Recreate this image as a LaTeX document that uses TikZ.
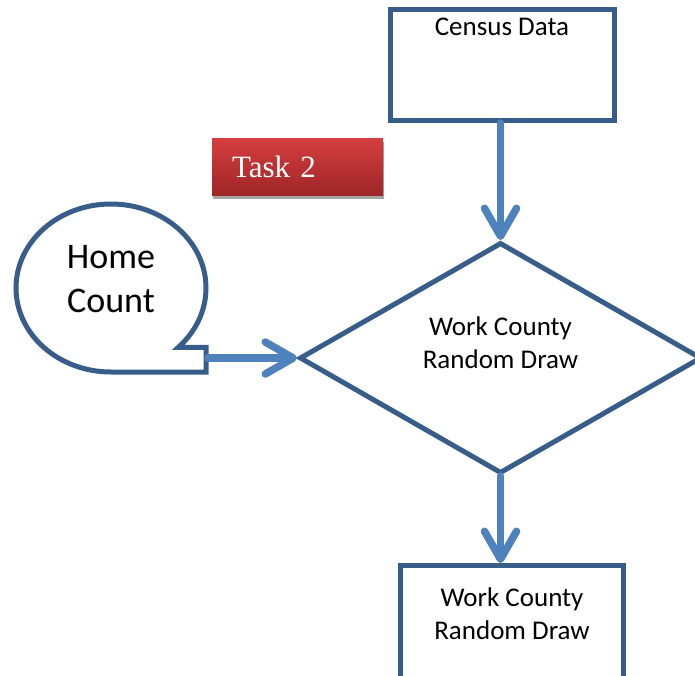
\documentclass[tikz,border=0pt]{standalone}
\usepackage{fontspec}
\setmainfont{Carlito}
\newfontfamily\taskfont{Liberation Serif}
\usetikzlibrary{positioning}
\usetikzlibrary{arrows.meta}
\usetikzlibrary{shapes.geometric}
\usetikzlibrary{shadows}

\definecolor{shapeblue}{RGB}{56,93,138}
\definecolor{arrowblue}{RGB}{79,129,189}
\definecolor{tasktop}{RGB}{214,62,62}
\definecolor{taskbottom}{RGB}{158,38,40}

\begin{document}
\begin{tikzpicture}[ x                 = 1pt
                   , y                 = -1pt
                   , font              = \fontsize{27}{33}\selectfont
                   , every node/.style = { align     = center
                                         , inner sep = 0pt
                                         }
                   % Use barb style arrows
                   , >={Straight Barb[length=28pt, width=32pt, round]}
                   ]

  %%
  %% Node types
  %%
  \tikzset{ block/.style={rectangle, draw=shapeblue, line width=5pt, fill=white}
          , decision/.style={diamond, draw=shapeblue, line width=5pt, fill=white,
                             minimum width=402pt, minimum height=231pt}
          , bubble/.style={draw=shapeblue, line width=5pt, fill=white}
          , tasktag/.style={rectangle, top color=tasktop, bottom color=taskbottom,
                            text=white, font=\taskfont\fontsize{31}{36}\selectfont,
                            minimum width=171pt, minimum height=57pt,
                            text width=131pt, inner xsep=20pt, align=left,
                            drop shadow={shadow xshift=1pt, shadow yshift=-4pt,
                                         fill=black!35, opacity=1}}
          }

  %%
  %% Arrow types
  %%
  \tikzset{ flow/.style={->, arrowblue, line width=7.5pt, line cap=round} }

  \useasboundingbox (0,0) rectangle (695,675);
  \clip (0,0) rectangle (695,675);

  %%
  %% Nodes
  %%
  \node (census) [block, minimum width=224pt, minimum height=111pt,
                  label={[anchor=north, yshift=-11pt]north:Census Data}] at (502,65) {};

  \node (task) [tasktag] at (297.5,166.5) {Task 2};

  \node (decide) [decision, label={[yshift=15pt]center:Work County\\Random Draw}] at (500.5,358) {};

  \node (result) [block, minimum width=223pt, minimum height=135pt,
                  label={[anchor=north, yshift=-25pt]north:Work County\\Random Draw}] at (512,633) {};

  %%% Home count callout
  \draw[bubble] (111,372) arc[start angle=90, end angle=405, x radius=95, y radius=84]
                -| (206,372) -- cycle;
  \node (home) [font=\fontsize{36}{44}\selectfont] at (111,279) {Home\\Count};
  \coordinate (homeout) at (208,358);

  %%
  %% Relationships between nodes
  %%
  \draw[flow] (census.south -| decide.north) -- (decide.north);
  \draw[flow] (homeout) -- (decide.west);
  \draw[flow] (decide.south) -- (decide.south |- result.north);

\end{tikzpicture}
\end{document}
